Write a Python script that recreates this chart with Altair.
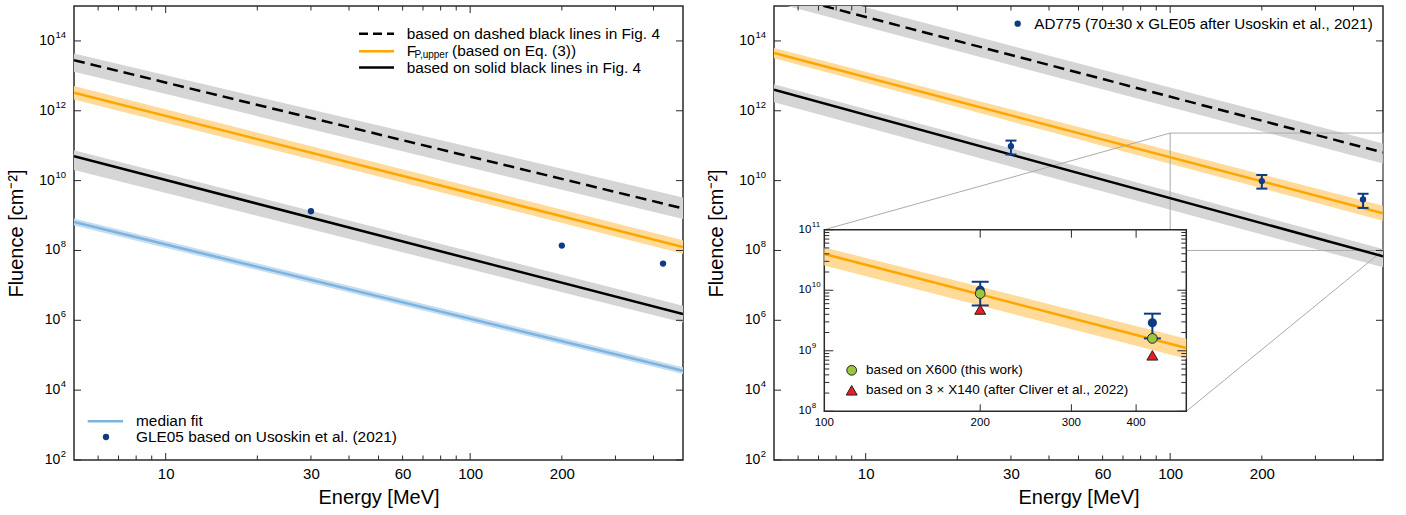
import altair as alt
import numpy as np
import pandas as pd

FONT = "Liberation Sans"
W, H = 609, 454

# ---------------- data ----------------
energy_ends = [5, 500]

left_dashed = [2.8e13, 1.6e9]
left_dashed_hi = [4.4e13, 3.3e9]
left_dashed_lo = [1.3e13, 7.9e8]
left_orange = [3.3e12, 1.26e8]
left_orange_hi = [5.1e12, 1.95e8]
left_orange_lo = [2.1e12, 8.1e7]
left_black = [5.0e10, 1.5e6]
left_black_hi = [7.4e10, 2.6e6]
left_black_lo = [2.0e10, 8.7e5]
left_median = [6.5e8, 3.6e4]
left_median_hi = [8.2e8, 4.5e4]
left_median_lo = [5.2e8, 2.9e4]

gle_energy = [30, 200, 430]
gle_fluence = [1.33e9, 1.38e8, 4.2e7]

right_dashed = [2.37e15, 6.4e10]
right_dashed_hi = [4.5e15, 1.15e11]
right_dashed_lo = [1.26e15, 3.1e10]
right_orange = [4.5e13, 1.16e9]
right_orange_hi = [6.3e13, 1.9e9]
right_orange_lo = [3.2e13, 7.1e8]
right_black = [4.0e12, 6.8e7]
right_black_hi = [5.75e12, 1.1e8]
right_black_lo = [1.74e12, 3.3e7]

ad775_energy = [30, 200, 430]
ad775_fluence = [9.7e10, 9.7e9, 2.9e9]
ad775_hi = [1.4e11, 1.45e10, 4.2e9]
ad775_lo = [5.6e10, 5.9e9, 1.65e9]

zoom_box_energy = [100, 500]
zoom_box_fluence = [1e8, 2.3e11]

inset_energy_ends = [100, 500]
inset_orange = [3.98e10, 1.11e9]
inset_orange_hi = [5.1e10, 1.58e9]
inset_orange_lo = [2.57e10, 7.4e8]
inset_energy = [200, 430]
inset_blue = [1.0e10, 2.9e9]
inset_blue_hi = [1.38e10, 4.1e9]
inset_blue_lo = [5.6e9, 1.6e9]
inset_x600 = [8.8e9, 1.6e9]
inset_x140 = [4.8e9, 8.4e8]

x_tick_labels = [10, 30, 60, 100, 200]
x_major_ticks = [10, 100]
x_minor_ticks = [6, 7, 8, 9, 20, 30, 40, 50, 60, 70, 80, 90, 200, 300, 400]
y_major_ticks = [1e2, 1e4, 1e6, 1e8, 1e10, 1e12, 1e14]
inset_x_labels = [100, 200, 300, 400]
inset_x_ticks = [200, 300, 400]
inset_y_major = [1e8, 1e9, 1e10, 1e11]
inset_y_minor = [m * 10.0 ** e for e in (8, 9, 10) for m in range(2, 10)]

# ---------------- styles ----------------
ORANGE = "#FFA500"
ORANGE_BAND = "#FFDA98"
GRAY_BAND = "#D5D5D5"
MED = "#7DB3DE"
MED_BAND = "#C4DDF1"
BLUE = "#0E3B84"
GREEN = "#9CC640"
RED = "#EC1C24"
FRAME = "#2a2a2a"
BOXGRAY = "#ABABAB"
LEG = 15.4

XS = alt.Scale(type="log", domain=[5, 500], nice=False)
YS = alt.Scale(type="log", domain=[1e2, 1e15], nice=False)

X_AXIS = alt.Axis(
    values=x_tick_labels, labelExpr="format(datum.value, 'd')", ticks=False, domain=False,
    grid=False, labelFontSize=15, labelPadding=6, labelFont=FONT, labelColor="black",
    title="Energy [MeV]", titleFont=FONT, titleFontSize=20, titleFontWeight="normal",
    titlePadding=6, titleColor="black")
Y_AXIS = alt.Axis(
    labels=False, ticks=False, domain=False, grid=False,
    title="Fluence [cm⁻²]", titleFont=FONT, titleFontSize=20, titleFontWeight="normal",
    titlePadding=48, titleColor="black")

# inset placement inside the right panel (pixels)
IX0, IX1, IY0, IY1 = 50.3, 412.3, 223.7, 405.3
XI = alt.Scale(type="log", domain=[100, 500], range=[IX0, IX1], nice=False)
YI = alt.Scale(type="log", domain=[1e8, 1e11], range=[IY1, IY0], nice=False)


def X(field, xs):
    if xs is XS:
        return alt.X(field, scale=xs, axis=X_AXIS)
    return alt.X(field, scale=xs, axis=None)


def Y(field, ys):
    if ys is YS:
        return alt.Y(field, scale=ys, axis=Y_AXIS)
    return alt.Y(field, scale=ys, axis=None)


def band(e, hi, lo, color, xs, ys):
    df = pd.DataFrame({"e": e, "hi": hi, "lo": lo})
    return alt.Chart(df).mark_area(color=color, clip=True, opacity=1).encode(
        x=X("e:Q", xs), y=Y("hi:Q", ys), y2="lo:Q")


def curve(e, v, color, xs, ys, dash=None, width=2.5):
    props = dict(color=color, strokeWidth=width, clip=True)
    if dash is not None:
        props["strokeDash"] = dash
    df = pd.DataFrame({"e": e, "v": v})
    return alt.Chart(df).mark_line(**props).encode(x=X("e:Q", xs), y=Y("v:Q", ys))


def dots(e, v, xs, ys, size, color=BLUE, shape="circle", stroke=None):
    props = dict(filled=True, color=color, size=size, shape=shape, opacity=1)
    if stroke is not None:
        props["stroke"] = stroke
        props["strokeWidth"] = 1
    df = pd.DataFrame({"e": e, "v": v})
    return alt.Chart(df).mark_point(**props).encode(x=X("e:Q", xs), y=Y("v:Q", ys))


def errbars(e, lo, hi, xs, ys, cap):
    df = pd.DataFrame({"e": e, "lo": lo, "hi": hi})
    base = alt.Chart(df)
    bar = base.mark_rule(color=BLUE, strokeWidth=2).encode(x=X("e:Q", xs), y=Y("lo:Q", ys), y2="hi:Q")
    c1 = base.mark_tick(color=BLUE, orient="horizontal", size=cap, thickness=2, opacity=1).encode(
        x=X("e:Q", xs), y=Y("hi:Q", ys))
    c2 = base.mark_tick(color=BLUE, orient="horizontal", size=cap, thickness=2, opacity=1).encode(
        x=X("e:Q", xs), y=Y("lo:Q", ys))
    return [bar, c1, c2]


def frame_ticks(xs, ys):
    out = []
    for vals, ln in ((x_major_ticks, 7), (x_minor_ticks, 4.5)):
        b = alt.Chart(pd.DataFrame({"e": vals})).mark_rule(color=FRAME, strokeWidth=1)
        out.append(b.encode(x=X("e:Q", xs), y=alt.value(H), y2=alt.value(H - ln)))
        out.append(b.encode(x=X("e:Q", xs), y=alt.value(0), y2=alt.value(ln)))
    b = alt.Chart(pd.DataFrame({"v": y_major_ticks})).mark_rule(color=FRAME, strokeWidth=1)
    out.append(b.encode(y=Y("v:Q", ys), x=alt.value(0), x2=alt.value(7)))
    out.append(b.encode(y=Y("v:Q", ys), x=alt.value(W), x2=alt.value(W - 7)))
    return out


def ylabels(ys):
    df = pd.DataFrame({"v": y_major_ticks})
    df["p"] = [str(int(round(np.log10(v)))) for v in y_major_ticks]
    base = alt.Chart(df).transform_calculate(xo="-8 - 5.6*length(datum.p)")
    ten = base.mark_text(align="right", baseline="middle", fontSize=14, font=FONT, color="black").encode(
        x=alt.X("xo:Q", scale=None), y=Y("v:Q", ys), text=alt.value("10"))
    sup = base.mark_text(align="right", baseline="middle", fontSize=9.5, font=FONT, color="black", dy=-6).encode(
        x=alt.value(-8), y=Y("v:Q", ys), text="p:N")
    return [ten, sup]


def txt(x, y, s, size=LEG, align="left", dy=0):
    return alt.Chart(pd.DataFrame({"t": [s]})).mark_text(
        align=align, baseline="middle", fontSize=size, font=FONT, color="black", dy=dy).encode(
        x=alt.value(x), y=alt.value(y), text="t:N")


def legline(x1, x2, y, color, dash=None, width=2.5):
    props = dict(color=color, strokeWidth=width)
    if dash is not None:
        props["strokeDash"] = dash
    return alt.Chart(pd.DataFrame({"a": [0]})).mark_rule(**props).encode(
        x=alt.value(x1), x2=alt.value(x2), y=alt.value(y))


def legpoint(x, y, color, size, shape="circle", stroke=None):
    props = dict(filled=True, color=color, size=size, shape=shape, opacity=1)
    if stroke is not None:
        props["stroke"] = stroke
        props["strokeWidth"] = 1
    return alt.Chart(pd.DataFrame({"a": [0]})).mark_point(**props).encode(
        x=alt.value(x), y=alt.value(y))


DASH = [11, 6]

# ---------------- left panel ----------------
left_layers = [
    band(energy_ends, left_dashed_hi, left_dashed_lo, GRAY_BAND, XS, YS),
    band(energy_ends, left_orange_hi, left_orange_lo, ORANGE_BAND, XS, YS),
    band(energy_ends, left_black_hi, left_black_lo, GRAY_BAND, XS, YS),
    band(energy_ends, left_median_hi, left_median_lo, MED_BAND, XS, YS),
    curve(energy_ends, left_dashed, "black", XS, YS, dash=DASH),
    curve(energy_ends, left_orange, ORANGE, XS, YS),
    curve(energy_ends, left_black, "black", XS, YS),
    curve(energy_ends, left_median, MED, XS, YS),
    dots(gle_energy, gle_fluence, XS, YS, 40),
]
left_layers += frame_ticks(XS, YS)
left_layers += ylabels(YS)
left_layers += [
    legline(285, 320, 27.7, "black", dash=[9, 5]),
    txt(332.7, 27.7, "based on dashed black lines in Fig. 4"),
    legline(285, 320, 45.3, ORANGE),
    txt(332.7, 45.3, "F"),
    txt(340.5, 45.3, "P,upper", size=10, dy=4),
    txt(378, 45.3, "(based on Eq. (3))"),
    legline(285, 320, 61.5, "black"),
    txt(332.7, 61.5, "based on solid black lines in Fig. 4"),
    legline(13.7, 49, 415.3, MED),
    txt(62, 415.3, "median fit"),
    legpoint(32, 431, BLUE, 40),
    txt(62, 431, "GLE05 based on Usoskin et al. (2021)"),
]
left = alt.layer(*left_layers).properties(width=W, height=H)

# ---------------- right panel ----------------
box_df = pd.DataFrame({"e0": [zoom_box_energy[0]], "e1": [zoom_box_energy[1]],
                       "v0": [zoom_box_fluence[0]], "v1": [zoom_box_fluence[1]]})
zoom_box = alt.Chart(box_df).mark_rect(fillOpacity=0, stroke=BOXGRAY, strokeWidth=1).encode(
    x=X("e0:Q", XS), x2="e1:Q", y=Y("v0:Q", YS), y2="v1:Q")
conn1 = alt.Chart(box_df).mark_rule(color=BOXGRAY, strokeWidth=1).encode(
    x=X("e0:Q", XS), y=Y("v1:Q", YS), x2=alt.value(IX0), y2=alt.value(IY0))
conn2 = alt.Chart(box_df).mark_rule(color=BOXGRAY, strokeWidth=1).encode(
    x=X("e1:Q", XS), y=Y("v0:Q", YS), x2=alt.value(IX1), y2=alt.value(IY1))

main_layers = [
    band(energy_ends, right_dashed_hi, right_dashed_lo, GRAY_BAND, XS, YS),
    band(energy_ends, right_orange_hi, right_orange_lo, ORANGE_BAND, XS, YS),
    band(energy_ends, right_black_hi, right_black_lo, GRAY_BAND, XS, YS),
    zoom_box, conn1, conn2,
    curve(energy_ends, right_dashed, "black", XS, YS, dash=DASH),
    curve(energy_ends, right_orange, ORANGE, XS, YS),
    curve(energy_ends, right_black, "black", XS, YS),
]
main_layers += errbars(ad775_energy, ad775_lo, ad775_hi, XS, YS, 11)
main_layers += [dots(ad775_energy, ad775_fluence, XS, YS, 40)]
main_layers += frame_ticks(XS, YS)
main_layers += ylabels(YS)
main_layers += [
    legpoint(243.7, 17.7, BLUE, 40),
    txt(260.3, 17.7, "AD775 (70±30 x GLE05 after Usoskin et al., 2021)", size=15.2),
]

# inset
inset_box = alt.Chart(pd.DataFrame({"e0": [100], "e1": [500], "v0": [1e8], "v1": [1e11]})).mark_rect(
    fill="white", stroke=FRAME, strokeWidth=1.5).encode(
    x=X("e0:Q", XI), x2="e1:Q", y=Y("v0:Q", YI), y2="v1:Q")


def inset_ticks():
    out = []
    for vals, ln in ((inset_y_major, 9), (inset_y_minor, 5)):
        b = alt.Chart(pd.DataFrame({"v": vals})).mark_rule(color=FRAME, strokeWidth=1)
        out.append(b.encode(y=Y("v:Q", YI), x=alt.value(IX0), x2=alt.value(IX0 + ln)))
        out.append(b.encode(y=Y("v:Q", YI), x=alt.value(IX1), x2=alt.value(IX1 - ln)))
    b = alt.Chart(pd.DataFrame({"e": inset_x_ticks})).mark_rule(color=FRAME, strokeWidth=1)
    out.append(b.encode(x=X("e:Q", XI), y=alt.value(IY1), y2=alt.value(IY1 - 7)))
    out.append(b.encode(x=X("e:Q", XI), y=alt.value(IY0), y2=alt.value(IY0 + 8)))
    out.append(alt.Chart(pd.DataFrame({"e": inset_x_labels})).mark_text(
        align="center", baseline="middle", fontSize=11.5, font=FONT, color="black").encode(
        x=X("e:Q", XI), y=alt.value(IY1 + 12), text=alt.Text("e:Q", format="d")))
    ydf = pd.DataFrame({"v": inset_y_major})
    ydf["p"] = [str(int(round(np.log10(v)))) for v in inset_y_major]
    out.append(alt.Chart(ydf).mark_text(align="right", baseline="middle", fontSize=11.5, font=FONT,
                                        color="black").encode(x=alt.value(IX0 - 13), y=Y("v:Q", YI),
                                                              text=alt.value("10")))
    out.append(alt.Chart(ydf).mark_text(align="left", baseline="middle", fontSize=8, font=FONT,
                                        color="black", dy=-5).encode(x=alt.value(IX0 - 12.5), y=Y("v:Q", YI),
                                                                     text="p:N"))
    return out


inset_layers = [
    inset_box,
    band(inset_energy_ends, inset_orange_hi, inset_orange_lo, ORANGE_BAND, XI, YI),
    curve(inset_energy_ends, inset_orange, ORANGE, XI, YI),
]
inset_layers += errbars(inset_energy, inset_blue_lo, inset_blue_hi, XI, YI, 17)
inset_layers += [
    dots(inset_energy, inset_blue, XI, YI, 85),
    dots(inset_energy, inset_x600, XI, YI, 95, color=GREEN, stroke="#222"),
    dots(inset_energy, inset_x140, XI, YI, 120, color=RED, shape="triangle-up", stroke="#222"),
]
inset_layers += inset_ticks()
inset_layers += [
    legpoint(77.7, 364.3, GREEN, 95, stroke="#222"),
    txt(92, 364.3, "based on X600 (this work)", size=13.5),
    legpoint(77.7, 384.3, RED, 120, shape="triangle-up", stroke="#222"),
    txt(92, 384.3, "based on 3 × X140 (after Cliver et al., 2022)", size=13.5),
]

right = alt.layer(alt.layer(*main_layers), alt.layer(*inset_layers)).resolve_scale(
    x="independent", y="independent").properties(width=W, height=H)

chart = alt.hconcat(left, right, spacing=91, bounds="flush").properties(
    padding={"left": 5, "top": 4, "right": 5, "bottom": 5}
).configure(font=FONT).configure_view(stroke=FRAME, strokeWidth=1.5)

chart.save("out.html", embed_options={"renderer": "svg", "actions": False})
